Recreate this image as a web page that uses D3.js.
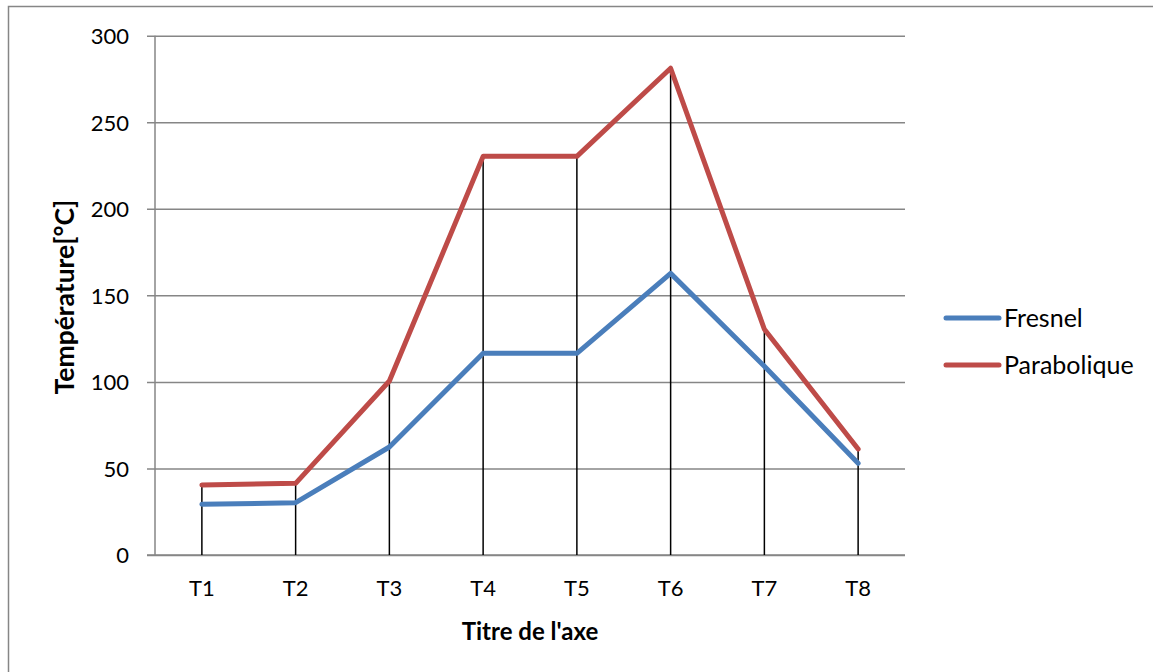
<!DOCTYPE html>
<html>
<head>
<meta charset="utf-8">
<script src="https://cdn.jsdelivr.net/npm/d3@7"></script>
<style>
  html, body { margin: 0; padding: 0; background: #fff; }
  svg { display: block; }
  text { font-family: Lato, "Open Sans", sans-serif; fill: #000; }
</style>
</head>
<body>
<svg id="chart" width="1153" height="672"></svg>
<script>
// Temperature readings at each measurement point
const categories = ["T1", "T2", "T3", "T4", "T5", "T6", "T7", "T8"];
const fresnel = [29.3, 30.2, 62.4, 116.5, 116.5, 162.7, 109, 53];
const parabolique = [40.4, 41.4, 100.5, 230.3, 230.3, 281.2, 130.4, 61.2];
const yTicks = [0, 50, 100, 150, 200, 250, 300];
const seriesNames = ["Fresnel", "Parabolique"];
const seriesColors = ["#4a7ebb", "#be4b48"];

const FONT = "Lato, 'Open Sans', sans-serif";
const svg = d3.select("#chart");

// Outer chart frame
svg.append("rect")
  .attr("x", 8.5).attr("y", 6.5)
  .attr("width", 1160).attr("height", 680)
  .attr("fill", "none").attr("stroke", "#868686").attr("stroke-width", 1.5);

const plot = { left: 155, right: 905, top: 35.7, bottom: 555 };

const x = d3.scaleBand().domain(categories)
  .range([plot.left, plot.right]).paddingInner(0).paddingOuter(0);
const cx = c => x(c) + x.bandwidth() / 2;
const y = d3.scaleLinear().domain([0, 300]).range([plot.bottom, plot.top]);

// Horizontal gridlines with small outside ticks
const yAxis = d3.axisLeft(y).tickValues(yTicks)
  .tickSize(-(plot.right - plot.left)).tickPadding(26);
const gy = svg.append("g").attr("transform", `translate(${plot.left},0)`).call(yAxis);
gy.select(".domain").remove();
gy.selectAll(".tick line").attr("stroke", "#868686").attr("stroke-width", 1.5)
  .attr("x1", -8);
gy.selectAll(".tick text").attr("font-size", 22).attr("font-family", FONT)
  .attr("fill", "#000").attr("dy", "0.36em");

// Vertical axis line
svg.append("line")
  .attr("x1", plot.left).attr("x2", plot.left)
  .attr("y1", plot.top).attr("y2", plot.bottom)
  .attr("stroke", "#868686").attr("stroke-width", 1.5);

// Category axis
const xAxis = d3.axisBottom(x).tickSize(0).tickPadding(25);
const gx = svg.append("g").attr("transform", `translate(0,${plot.bottom})`).call(xAxis);
gx.select(".domain").attr("stroke", "#868686").attr("stroke-width", 1.5)
  .attr("d", `M${plot.left - 8},0H${plot.right}`);
gx.selectAll(".tick text").attr("font-size", 22).attr("font-family", FONT)
  .attr("fill", "#000");

// Drop lines from the highest series down to the axis
const tops = categories.map((c, i) => Math.max(fresnel[i], parabolique[i]));
svg.append("g").selectAll("line").data(categories).join("line")
  .attr("x1", d => cx(d)).attr("x2", d => cx(d))
  .attr("y1", (d, i) => y(tops[i])).attr("y2", plot.bottom)
  .attr("stroke", "#000").attr("stroke-width", 1.5);

// Series lines
const line = d3.line().x((d, i) => cx(categories[i])).y(d => y(d));
[fresnel, parabolique].forEach((s, k) => {
  svg.append("path").datum(s)
    .attr("d", line)
    .attr("fill", "none")
    .attr("stroke", seriesColors[k])
    .attr("stroke-width", 5)
    .attr("stroke-linejoin", "round")
    .attr("stroke-linecap", "round");
});

// Axis titles
svg.append("text")
  .attr("x", 530).attr("y", 640)
  .attr("text-anchor", "middle")
  .attr("font-size", 24).attr("font-weight", "bold")
  .text("Titre de l'axe");

svg.append("text")
  .attr("transform", "translate(74,297) rotate(-90)")
  .attr("text-anchor", "middle")
  .attr("font-size", 26.5).attr("font-weight", "bold")
  .text("Température[°C]");

// Legend
const legend = svg.append("g");
seriesNames.forEach((name, k) => {
  const ly = 318 + k * 47;
  legend.append("line")
    .attr("x1", 946).attr("x2", 999).attr("y1", ly).attr("y2", ly)
    .attr("stroke", seriesColors[k]).attr("stroke-width", 5)
    .attr("stroke-linecap", "round");
  legend.append("text")
    .attr("x", 1004).attr("y", ly).attr("dy", "0.36em")
    .attr("font-size", 25)
    .text(name);
});
</script>
</body>
</html>
